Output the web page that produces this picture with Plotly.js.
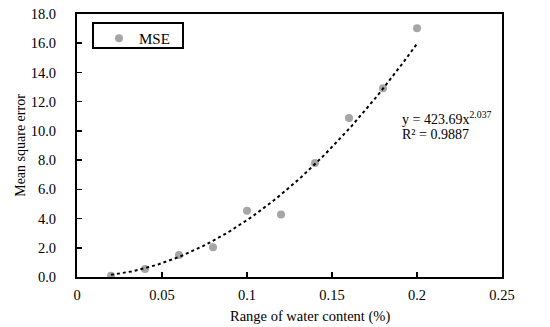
<!DOCTYPE html>
<html><head><meta charset="utf-8">
<script src="https://cdn.plot.ly/plotly-3.0.1.min.js"></script>
<style>html,body{margin:0;padding:0;background:#fff}#c{width:550px;height:327px}</style>
</head><body><div id="c"></div>
<script>
var waterRange = [0.02, 0.04, 0.06, 0.08, 0.10, 0.12, 0.14, 0.16, 0.18, 0.20];
var mse = [0.08, 0.55, 1.5, 2.03, 4.54, 4.27, 7.8, 10.88, 12.92, 17.03];
var fitA = 423.69, fitB = 2.037, fitR2 = 0.9887;
var xTicks = [0, 0.05, 0.1, 0.15, 0.2, 0.25];

var fx = [], fy = [];
for (var i = 0; i <= 90; i++) { var x = 0.02 + i * 0.002; fx.push(x); fy.push(fitA * Math.pow(x, fitB)); }

var font = "'Liberation Serif', 'Times New Roman', serif";
var px = function (p) { return (p - 77) / 425; };
var py = function (p) { return (277 - p) / 263; };
var data = [
  {x: waterRange, y: mse, type: 'scatter', mode: 'markers', name: 'MSE',
   marker: {color: '#a6a6a6', size: 8}},
  {x: fx, y: fy, type: 'scatter', mode: 'lines', showlegend: false, hoverinfo: 'skip',
   line: {color: '#000', width: 2, dash: 'dot'}}
];
var layout = {
  width: 550, height: 327,
  margin: {l: 77, r: 48, t: 14, b: 50},
  paper_bgcolor: '#fff', plot_bgcolor: '#fff',
  font: {family: font, size: 14, color: '#000'},
  showlegend: true,
  legend: {x: px(99), y: py(22), xanchor: 'left', yanchor: 'top', borderwidth: 0,
           bgcolor: 'rgba(0,0,0,0)', itemwidth: 30, font: {family: font, size: 15}},
  shapes: [
    {type: 'rect', xref: 'paper', yref: 'paper', x0: px(93), x1: px(183), y0: py(48), y1: py(23),
     line: {color: '#000', width: 2}, fillcolor: 'rgba(0,0,0,0)'}
  ],
  xaxis: {range: [0, 0.25], tickvals: xTicks, ticktext: xTicks.map(String), showgrid: false, zeroline: false,
          showline: true, mirror: true, linecolor: '#000', linewidth: 2,
          ticks: 'inside', ticklen: 5, tickwidth: 1.5, tickcolor: '#000', ticklabelstandoff: 4,
          tickfont: {family: font, size: 14.5}},
  yaxis: {range: [0, 18], dtick: 2, tickformat: '.1f', showgrid: false, zeroline: false,
          showline: true, mirror: true, linecolor: '#000', linewidth: 2,
          ticks: 'inside', ticklen: 5, tickwidth: 1.5, tickcolor: '#000', ticklabelstandoff: 16,
          tickfont: {family: font, size: 14.5},
          title: {text: 'Mean square error', font: {family: font, size: 14}, standoff: 2}},
  annotations: [
    {xref: 'paper', yref: 'paper', x: px(310), y: py(316), xanchor: 'center', yanchor: 'middle',
     text: 'Range of water content (%)', showarrow: false, font: {family: font, size: 14.5}},
    {xref: 'paper', yref: 'paper', x: px(400), y: py(118), xanchor: 'left', yanchor: 'middle',
     text: 'y = ' + fitA + 'x<sup>' + fitB + '</sup>', showarrow: false, font: {family: font, size: 14}},
    {xref: 'paper', yref: 'paper', x: px(400), y: py(134), xanchor: 'left', yanchor: 'middle',
     text: 'R² = ' + fitR2, showarrow: false, font: {family: font, size: 14}}
  ]
};
Plotly.newPlot('c', data, layout, {displayModeBar: false, staticPlot: true});
</script></body></html>
